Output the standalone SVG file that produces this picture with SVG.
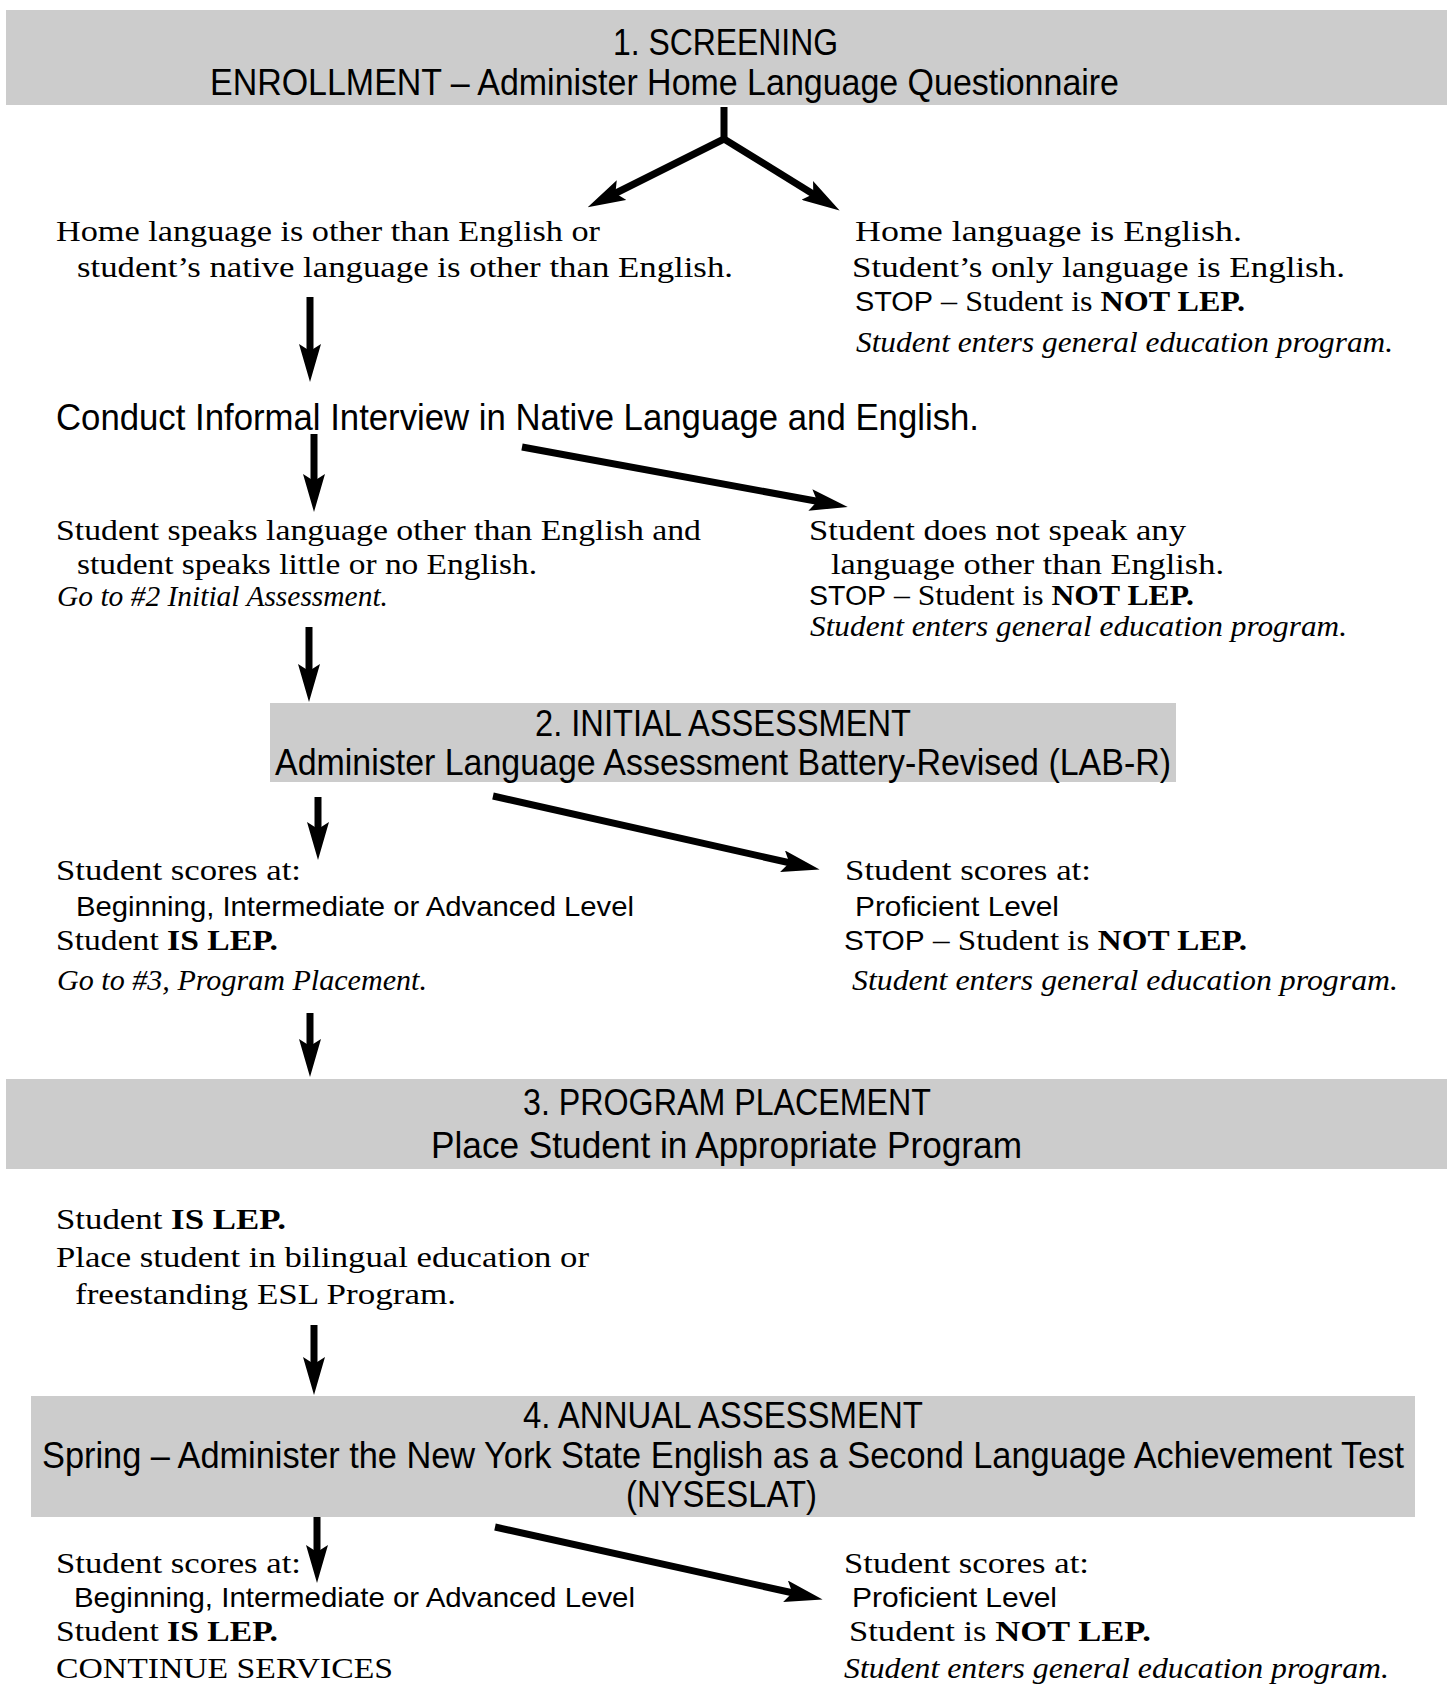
<svg xmlns="http://www.w3.org/2000/svg" width="1452" height="1686" viewBox="0 0 1452 1686">
<defs>
<style>
.box{fill:#cccccc}
.h{font-family:"Liberation Sans",Arial,sans-serif;font-size:36px;fill:#000}
.s{font-family:"Liberation Sans",Arial,sans-serif;font-size:28px;fill:#000}
.t{font-family:"Liberation Serif","Times New Roman",serif;font-size:30px;fill:#000}
.i{font-style:italic}
.b{font-weight:bold}
.ss{font-family:"Liberation Sans",Arial,sans-serif;font-size:27px}
.conn path{fill:none;stroke:#000;stroke-width:7;stroke-linejoin:round;marker-end:url(#ah)}
</style>
<marker id="ah" markerUnits="userSpaceOnUse" viewBox="0 0 38 22" markerWidth="38" markerHeight="22" refX="22" refY="11" orient="auto">
<path d="M0,0 L38,11 L0,22 L7,11 Z" fill="#000"/>
</marker>
</defs>
<rect width="1452" height="1686" fill="#fff"/>

<g id="screening">
<rect class="box" x="6" y="10" width="1441" height="95"/>
<text class="h" x="613" y="55" textLength="225" lengthAdjust="spacingAndGlyphs">1. SCREENING</text>
<text class="h" x="210" y="95" textLength="909" lengthAdjust="spacingAndGlyphs">ENROLLMENT – Administer Home Language Questionnaire</text>
</g>

<g id="initial-assessment">
<rect class="box" x="270" y="703" width="906" height="79"/>
<text class="h" x="535" y="736" textLength="376" lengthAdjust="spacingAndGlyphs">2. INITIAL ASSESSMENT</text>
<text class="h" x="275" y="775" textLength="896" lengthAdjust="spacingAndGlyphs">Administer Language Assessment Battery-Revised (LAB-R)</text>
</g>

<g id="program-placement">
<rect class="box" x="6" y="1079" width="1441" height="90"/>
<text class="h" x="523" y="1115" textLength="408" lengthAdjust="spacingAndGlyphs">3. PROGRAM PLACEMENT</text>
<text class="h" x="431" y="1158" textLength="591" lengthAdjust="spacingAndGlyphs">Place Student in Appropriate Program</text>
</g>

<g id="annual-assessment">
<rect class="box" x="31" y="1396" width="1384" height="121"/>
<text class="h" x="523" y="1428" textLength="400" lengthAdjust="spacingAndGlyphs">4. ANNUAL ASSESSMENT</text>
<text class="h" x="42" y="1468" font-size="34" textLength="1362" lengthAdjust="spacingAndGlyphs">Spring – Administer the New York State English as a Second Language Achievement Test</text>
<text class="h" x="626" y="1507" textLength="191" lengthAdjust="spacingAndGlyphs">(NYSESLAT)</text>
</g>

<g class="conn" id="connectors">
<path d="M724,107 V139 L602,200"/>
<path d="M724,139 L826,202"/>
<path d="M310,297 V366"/>
<path d="M314,434 V496"/>
<path d="M522,447 L832,504"/>
<path d="M309,627 V686"/>
<path d="M318,797 V844"/>
<path d="M493,796 L804,866"/>
<path d="M310,1013 V1061"/>
<path d="M314,1325 V1379"/>
<path d="M317,1517 V1567"/>
<path d="M495,1527 L807,1596"/>
</g>

<g id="home-other">
<text class="t" x="56" y="241" textLength="544" lengthAdjust="spacingAndGlyphs">Home language is other than English or</text>
<text class="t" x="77" y="277" textLength="656" lengthAdjust="spacingAndGlyphs">student’s native language is other than English.</text>
</g>

<g id="home-english">
<text class="t" x="855" y="241" textLength="387" lengthAdjust="spacingAndGlyphs">Home language is English.</text>
<text class="t" x="852" y="277" textLength="493" lengthAdjust="spacingAndGlyphs">Student’s only language is English.</text>
<text class="t" x="855" y="311" textLength="390" lengthAdjust="spacingAndGlyphs"><tspan class="ss">STOP</tspan> – Student is <tspan class="b">NOT LEP.</tspan></text>
<text class="t i" x="856" y="352" textLength="537" lengthAdjust="spacingAndGlyphs">Student enters general education program.</text>
</g>

<g id="interview">
<text class="h" x="56" y="430" textLength="923" lengthAdjust="spacingAndGlyphs">Conduct Informal Interview in Native Language and English.</text>
</g>

<g id="speaks-other">
<text class="t" x="56" y="540" textLength="645" lengthAdjust="spacingAndGlyphs">Student speaks language other than English and</text>
<text class="t" x="77" y="574" textLength="460" lengthAdjust="spacingAndGlyphs">student speaks little or no English.</text>
<text class="t i" x="57" y="606" textLength="331" lengthAdjust="spacingAndGlyphs">Go to #2 Initial Assessment.</text>
</g>

<g id="speaks-english-only">
<text class="t" x="809" y="540" textLength="377" lengthAdjust="spacingAndGlyphs">Student does not speak any</text>
<text class="t" x="831" y="574" textLength="393" lengthAdjust="spacingAndGlyphs">language other than English.</text>
<text class="t" x="809" y="605" font-size="28" textLength="385" lengthAdjust="spacingAndGlyphs"><tspan class="ss" font-size="26">STOP</tspan> – Student is <tspan class="b">NOT LEP.</tspan></text>
<text class="t i" x="810" y="636" font-size="28" textLength="537" lengthAdjust="spacingAndGlyphs">Student enters general education program.</text>
</g>

<g id="labr-lep">
<text class="t" x="56" y="880" textLength="245" lengthAdjust="spacingAndGlyphs">Student scores at:</text>
<text class="s" x="76" y="916" textLength="558" lengthAdjust="spacingAndGlyphs">Beginning, Intermediate or Advanced Level</text>
<text class="t" x="56" y="950" textLength="222" lengthAdjust="spacingAndGlyphs">Student <tspan class="b">IS LEP.</tspan></text>
<text class="t i" x="57" y="990" textLength="370" lengthAdjust="spacingAndGlyphs">Go to #3, Program Placement.</text>
</g>

<g id="labr-proficient">
<text class="t" x="845" y="880" textLength="246" lengthAdjust="spacingAndGlyphs">Student scores at:</text>
<text class="s" x="855" y="916" textLength="204" lengthAdjust="spacingAndGlyphs">Proficient Level</text>
<text class="t" x="844" y="950" textLength="403" lengthAdjust="spacingAndGlyphs"><tspan class="ss">STOP</tspan> – Student is <tspan class="b">NOT LEP.</tspan></text>
<text class="t i" x="852" y="990" textLength="546" lengthAdjust="spacingAndGlyphs">Student enters general education program.</text>
</g>

<g id="place-student">
<text class="t" x="56" y="1229" textLength="230" lengthAdjust="spacingAndGlyphs">Student <tspan class="b">IS LEP.</tspan></text>
<text class="t" x="56" y="1267" textLength="533" lengthAdjust="spacingAndGlyphs">Place student in bilingual education or</text>
<text class="t" x="75" y="1304" textLength="381" lengthAdjust="spacingAndGlyphs">freestanding ESL Program.</text>
</g>

<g id="nyseslat-lep">
<text class="t" x="56" y="1573" textLength="245" lengthAdjust="spacingAndGlyphs">Student scores at:</text>
<text class="s" x="74" y="1607" textLength="561" lengthAdjust="spacingAndGlyphs">Beginning, Intermediate or Advanced Level</text>
<text class="t" x="56" y="1641" textLength="222" lengthAdjust="spacingAndGlyphs">Student <tspan class="b">IS LEP.</tspan></text>
<text class="t" x="56" y="1678" textLength="337" lengthAdjust="spacingAndGlyphs">CONTINUE SERVICES</text>
</g>

<g id="nyseslat-proficient">
<text class="t" x="844" y="1573" textLength="245" lengthAdjust="spacingAndGlyphs">Student scores at:</text>
<text class="s" x="852" y="1607" textLength="205" lengthAdjust="spacingAndGlyphs">Proficient Level</text>
<text class="t" x="849" y="1641" textLength="302" lengthAdjust="spacingAndGlyphs">Student is <tspan class="b">NOT LEP.</tspan></text>
<text class="t i" x="844" y="1678" textLength="545" lengthAdjust="spacingAndGlyphs">Student enters general education program.</text>
</g>
</svg>
